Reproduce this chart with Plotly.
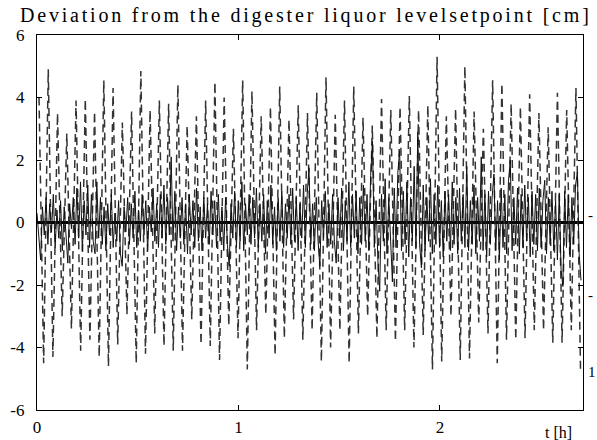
import numpy as np
import plotly.graph_objects as go

# ---- data ----
# dashed series: alternating peak / trough values (cm)
dashed_peaks = [4.0, 4.9, 3.5, 2.85, 3.9, 3.95, 3.55, 4.55, 4.3, 3.2, 3.55, 4.85,
                3.6, 3.9, 3.8, 4.4, 3.1, 3.4, 3.9, 4.5, 4.0, 3.0, 4.55, 4.2,
                3.4, 3.7, 4.35, 3.3, 3.75, 3.5, 4.15, 4.65, 3.45, 3.9, 4.35, 3.35,
                3.1, 3.95, 3.6, 3.7, 4.05, 3.6, 3.75, 5.3, 3.4, 3.65, 5.0, 3.55,
                3.0, 4.55, 4.45, 3.8, 3.7, 4.1, 3.5, 3.05, 4.15, 3.6, 4.3]
dashed_troughs = [-4.5, -4.3, -3.0, -3.4, -4.1, -3.75, -4.3, -4.6, -3.9, -2.95, -4.5, -4.2,
                  -3.55, -3.95, -4.1, -4.1, -3.1,
                  -3.9, -3.95, -4.4, -3.3, -3.7, -4.7, -3.45, -2.95, -4.25, -3.7, -3.1,
                  -3.75, -3.45, -4.45, -4.0, -3.45, -4.5, -3.55, -3.0, -3.7, -3.45, -3.8,
                  -3.45, -4.0, -3.6, -4.7, -4.45, -3.0, -4.4, -4.35, -3.2, -3.55, -4.5,
                  -3.75, -3.75, -3.7, -3.45, -3.45, -3.85, -3.85, -3.45, -4.8]
dashed_t0 = 0.01        # time of first peak [h]
dashed_half_step = 0.022974  # time between a peak and the next trough [h]

# solid series (cm), sampled every solid_step hours
solid_values = [
    0.3, -0.6, -1.2, 0.5, -0.4, 0.8, -0.7, 0.6, -0.3, 0.9, -0.8, 0.4, -0.5, 0.7, -0.9, 0.5, -0.6, -1.3, 0.6, -0.2,
    0.8, -0.7, 1.1, -0.5, 1.3, -0.9, 0.7, -0.4, 1.2, -0.8, 0.9, -0.6, -1.0, 1.3, -0.5, 0.8, -0.7, 0.5, -0.9, 0.6,
    -0.4, 0.9, -0.8, 0.3, -0.6, 0.7, -1.0, -1.4, 0.5, -0.3, 0.8, -0.7, 0.6, -0.5, 1.0, -0.8, 0.4, -0.6, 0.9, -0.4,
    0.7, -0.9, 0.5, -0.3, 1.1, -0.6, 0.6, -0.8, 0.9, -0.5, 1.2, -0.7, 0.8, -0.4, 2.1, -0.6, 1.0, -0.9, 0.5, -0.5,
    0.8, -0.7, 0.6, -1.0, 0.9, -0.4, 0.7, -0.8, 1.1, -0.6, 0.5, -0.9, 0.8, -0.5, 0.6, -0.7, 1.0, -0.4, 0.7, -0.8,
    0.9, -0.6, 0.5, -0.9, 0.8, -0.7, -1.4, 0.6, -0.5, 1.0, -0.8, 0.7, -0.6, 1.3, -0.9, 0.6, -0.4, 0.9, -0.7, 0.8,
    -0.5, 1.1, -0.8, 0.6, -0.6, 0.9, -1.0, 0.7, -0.5, 1.2, -0.7, 0.5, -0.9, 0.8, -0.6, 1.0, -0.8, 0.6, -0.5, 0.9,
    -0.7, 1.1, -0.6, 0.8, -0.9, 0.6, -0.5, 1.2, -0.8, 0.9, 1.75, -0.7, 0.6, -0.9, 0.8, -0.6, -1.4, 0.7, -0.5, 1.0,
    -0.8, 0.6, -0.7, 0.9, -0.6, -1.3, 0.8, -0.5, 1.1, -0.9, 0.7, -0.6, 1.3, -0.8, 0.9, -0.5, 1.0, -1.0, 0.8, -0.7,
    1.2, -0.6, 0.9, -0.9, 1.5, 2.6, -0.8, 0.7, -1.2, -2.2, 0.9, -0.6, 1.4, -1.0, 0.8, -0.7, -1.9, 1.1, -0.8, 1.6,
    2.3, -0.9, 1.0, -0.7, 1.3, -1.1, 0.8, -0.6, 1.8, -0.8, 2.9, -0.7, -1.45, 1.2, -0.9, 0.8, -0.6, 1.4, -1.0, 0.9,
    -0.7, 1.2, -0.8, 0.7, -1.1, 1.0, -0.6, 0.9, -0.9, 1.3, -0.7, 0.8, -1.0, 1.1, -0.6, 0.9, -0.8, 1.8, -0.9, 0.7,
    -0.7, 1.2, -1.0, 0.8, -0.6, 2.1, -0.9, 0.9, -1.1, 1.0, -0.7, 0.8, 1.55, -0.9, 0.7, -1.2, 1.1, -0.8, 0.9, -1.0,
    1.3, 2.0, -0.9, 0.8, -0.7, 1.1, -1.0, 0.9, -0.8, 1.2, -0.6, 0.8, -1.1, 1.0, -0.7, 0.9, -0.9, 1.1, -0.8, 0.7,
    1.35, -1.0, 0.8, -0.7, 1.0, -0.9, 0.7, -1.2, 0.9, -1.5, -2.05, 1.0, -0.8, 0.9, -1.1, 0.8, -0.7, 1.2, 1.6, -1.0,
    -1.85,
]
solid_step = 0.009  # [h]

x_range = [0, 2.71]
y_range = [-6, 6]
y_ticks = [-6, -4, -2, 0, 2, 4, 6]
x_ticks = [0, 1, 2]
title_text = "Deviation from the digester liquor levelsetpoint [cm]"
x_label = "t [h]"

# ---- build series ----
dashed_y = []
for p, tr in zip(dashed_peaks, dashed_troughs):
    dashed_y += [p, tr]
dashed_x = dashed_t0 + np.arange(len(dashed_y)) * dashed_half_step
solid_x = np.arange(len(solid_values)) * solid_step

serif = "Liberation Serif, Times New Roman, serif"

fig = go.Figure()
fig.add_trace(go.Scatter(x=dashed_x, y=dashed_y, mode="lines",
                         line=dict(color="#333333", width=1.5, dash="8px,5px"),
                         showlegend=False, hoverinfo="skip"))
fig.add_trace(go.Scatter(x=solid_x, y=solid_values, mode="lines",
                         line=dict(color="#111111", width=1.0),
                         showlegend=False, hoverinfo="skip"))

axis_common = dict(showline=True, linecolor="black", linewidth=1.2, mirror="ticks",
                   ticks="inside", ticklen=5, tickcolor="black", tickwidth=1,
                   showgrid=False, automargin=False,
                   tickfont=dict(family=serif, size=17, color="black"))

fig.update_xaxes(range=x_range, tickvals=x_ticks, ticktext=[str(v) for v in x_ticks],
                 zeroline=False, ticklabelstandoff=1, **axis_common)
fig.update_yaxes(range=y_range, tickvals=y_ticks, ticktext=[str(v) for v in y_ticks],
                 zeroline=True, zerolinecolor="black", zerolinewidth=2.5,
                 ticklabelstandoff=8, **axis_common)

annotations = [
    dict(text='<span style="letter-spacing:2.8px">' + title_text + '</span>',
         xref="paper", yref="paper", x=-0.0348, y=(410 - 15) / 375,
         xanchor="left", yanchor="middle", showarrow=False,
         font=dict(family=serif, size=20, color="black")),
    dict(text=x_label, xref="paper", yref="paper", x=(558 - 37) / 546, y=(410 - 432) / 375,
         xanchor="center", yanchor="middle", showarrow=False,
         font=dict(family=serif, size=16, color="black")),
]
# cut-off remnants of a neighbouring axis on the right edge
for txt, py in [("-", 215), ("-", 295), ("1", 372)]:
    annotations.append(dict(text=txt, xref="paper", yref="paper",
                            x=(586 - 37) / 546, y=(410 - py) / 375,
                            xanchor="left", yanchor="middle", showarrow=False,
                            font=dict(family=serif, size=15, color="black")))

fig.update_layout(width=597, height=440,
                  margin=dict(l=37, r=14, t=35, b=30, autoexpand=False),
                  paper_bgcolor="white", plot_bgcolor="white",
                  annotations=annotations)

fig.write_html("out.html")
